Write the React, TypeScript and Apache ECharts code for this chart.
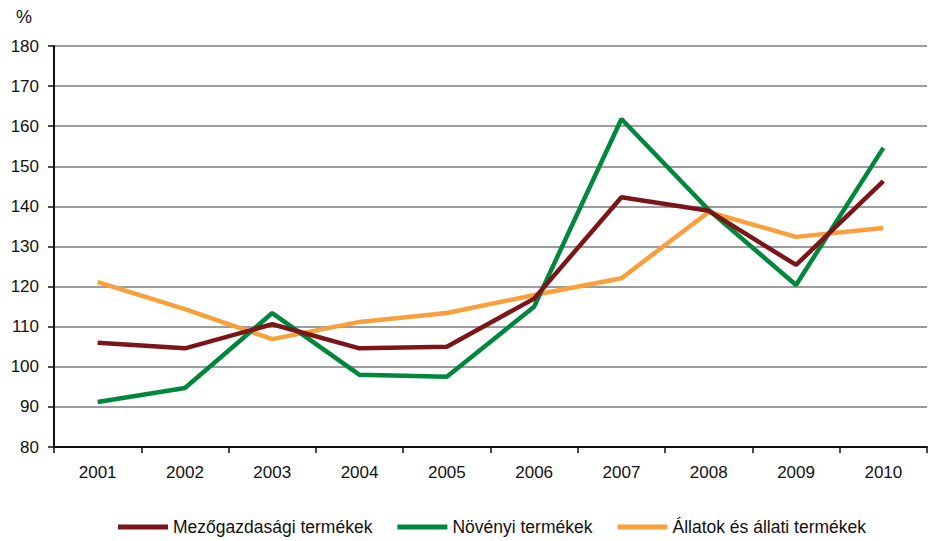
import React, { useEffect, useRef } from "react";
import * as echarts from "echarts";

const years = ["2001", "2002", "2003", "2004", "2005", "2006", "2007", "2008", "2009", "2010"];
const mezogazdasagi = [106.0, 104.6, 110.6, 104.6, 105.0, 117.0, 142.3, 138.9, 125.4, 146.3];
const novenyi = [91.2, 94.7, 113.4, 98.0, 97.5, 115.0, 161.8, 139.1, 120.4, 154.6];
const allatok = [121.1, 114.4, 106.9, 111.2, 113.4, 117.9, 122.1, 138.6, 132.4, 134.6];
const seriesNames = ["Mezőgazdasági termékek", "Növényi termékek", "Állatok és állati termékek"];
const colors = ["#7B1518", "#00873E", "#F9A03C"];

export default function App() {
  const ref = useRef<HTMLDivElement>(null);
  useEffect(() => {
    if (!ref.current) return;
    const chart = echarts.init(ref.current, null, { renderer: "svg" });
    const font = "'Liberation Sans', Arial, sans-serif";
    const data = [mezogazdasagi, novenyi, allatok];
    chart.setOption({
      animation: false,
      textStyle: { fontFamily: font },
      grid: { left: 54, right: 1, top: 46, bottom: 94, containLabel: false },
      legend: {
        bottom: 0,
        left: 113,
        itemWidth: 50,
        itemHeight: 5,
        itemGap: 25,
        icon: "rect",
        textStyle: { fontSize: 17.5, color: "#111", fontFamily: font },
        data: seriesNames,
      },
      graphic: [
        { type: "text", left: 16, top: 8, style: { text: "%", fontSize: 18, fill: "#111", fontFamily: font } },
      ],
      xAxis: {
        type: "category",
        data: years,
        boundaryGap: true,
        axisLine: { lineStyle: { color: "#111", width: 2 } },
        axisTick: { show: true, length: 6, lineStyle: { color: "#111", width: 1.5 } },
        axisLabel: { fontSize: 17, color: "#111", margin: 17, fontFamily: font },
        splitLine: { show: false },
      },
      yAxis: {
        type: "value",
        min: 80,
        max: 180,
        interval: 10,
        axisLine: { show: true, lineStyle: { color: "#111", width: 2 } },
        axisTick: { show: true, length: 6, lineStyle: { color: "#111", width: 1.5 } },
        axisLabel: { fontSize: 17, color: "#111", margin: 15, fontFamily: font },
        splitLine: { show: true, lineStyle: { color: "#9A9C9E", width: 2 } },
      },
      series: seriesNames.map((n, i) => ({
        name: n,
        type: "line",
        data: data[i],
        symbol: "none",
        lineStyle: { color: colors[i], width: 4.5 },
        itemStyle: { color: colors[i] },
        z: 3 - i,
      })),
    });
    return () => chart.dispose();
  }, []);
  return <div ref={ref} style={{ width: 928, height: 541, position: "absolute", left: 0, top: 0 }} />;
}
